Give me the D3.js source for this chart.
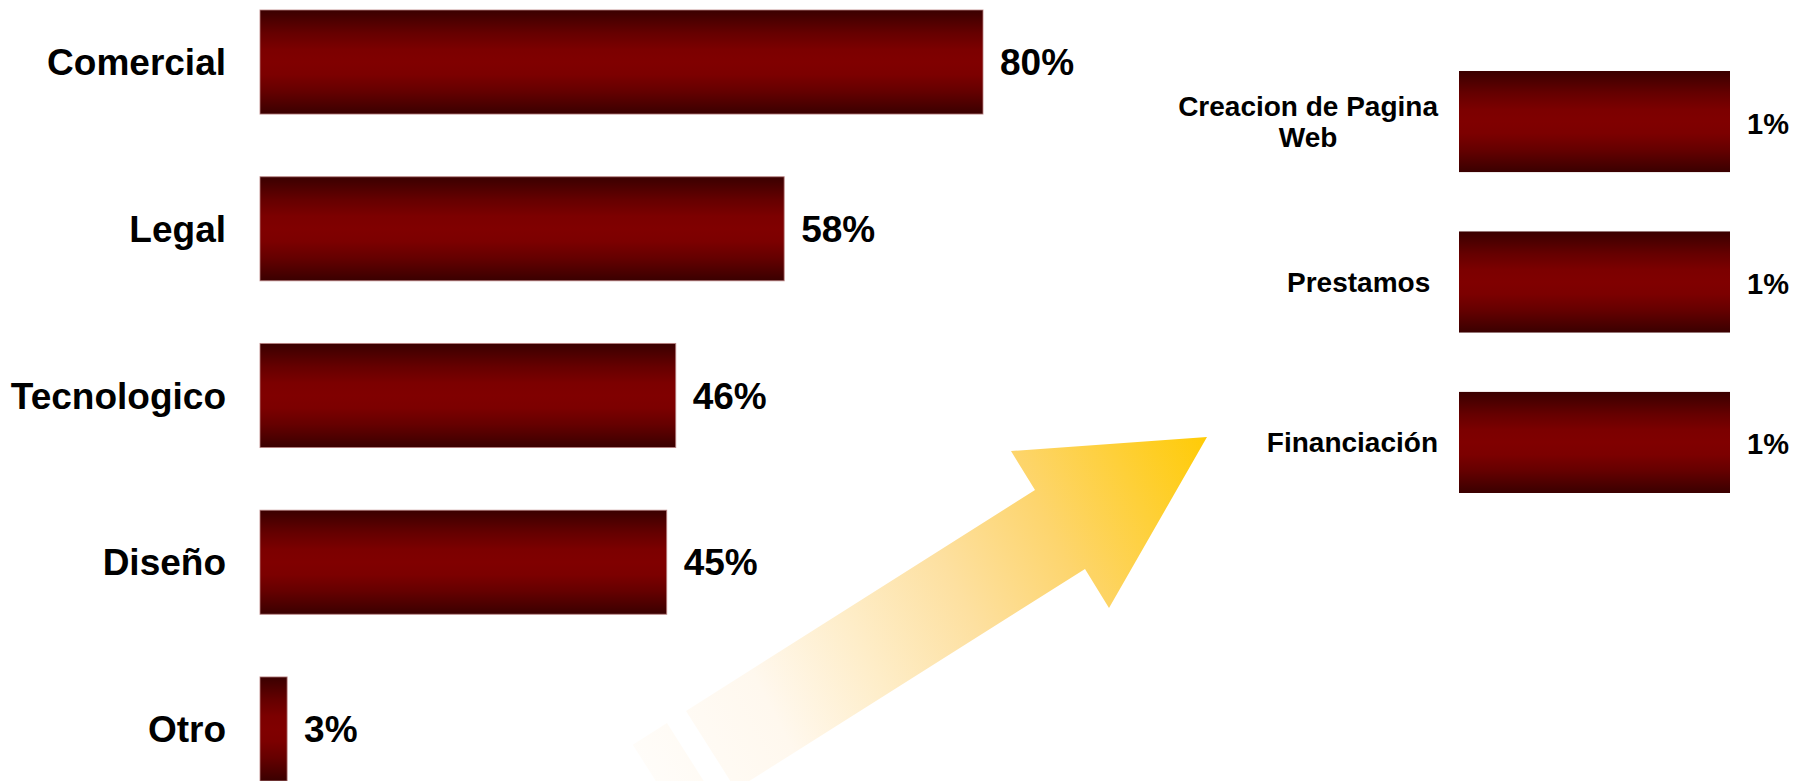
<!DOCTYPE html>
<html>
<head>
<meta charset="utf-8">
<script src="https://cdn.jsdelivr.net/npm/d3@7"></script>
<style>
  html, body { margin: 0; padding: 0; background: #ffffff; }
  svg { display: block; }
  text { font-family: "Liberation Sans", Arial, sans-serif; font-weight: bold; fill: #000; }
</style>
</head>
<body>
<script>
// ---- data ----
const mainCategories = ["Comercial", "Legal", "Tecnologico", "Diseño", "Otro"];
const mainValues = [80, 58, 46, 45, 3];
const mainLabels = ["80%", "58%", "46%", "45%", "3%"];

const sideCategories = [["Creacion de Pagina", "Web"], ["Prestamos "], ["Financiación"]];
const sideValues = [1, 1, 1];
const sideLabels = ["1%", "1%", "1%"];

const W = 1796, H = 781;
const svg = d3.select("body").append("svg").attr("width", W).attr("height", H);
const defs = svg.append("defs");

// bar gradient (dark edges, red middle)
const bg = defs.append("linearGradient").attr("id", "barGrad")
  .attr("x1", 0).attr("y1", 0).attr("x2", 0).attr("y2", 1);
[[0, "#3a0000"], [0.22, "#650000"], [0.38, "#7c0000"], [0.5, "#800000"], [0.62, "#7c0000"], [0.78, "#650000"], [1, "#3a0000"]]
  .forEach(([o, c]) => bg.append("stop").attr("offset", o).attr("stop-color", c));

// arrow gradient
const ag = defs.append("linearGradient").attr("id", "arrowGrad")
  .attr("gradientUnits", "userSpaceOnUse")
  .attr("x1", 560).attr("y1", 780).attr("x2", 1210).attr("y2", 440);
[[0, "#ffffff"], [0.3, "#fff8ee"], [0.45, "#feedc8"], [0.6, "#fde0a0"], [0.75, "#fdd56e"], [1, "#ffcb05"]]
  .forEach(([o, c]) => ag.append("stop").attr("offset", o).attr("stop-color", c));

// ---- decorative arrow (drawn behind bars) ----
const tipPts = [[1035, 490], [1011, 451], [1207, 437], [1109, 608], [1085, 569]];
const ux = -0.845, uy = 0.535;      // direction down the shaft
const nx = 0.535, ny = 0.845;       // across the shaft
const shaftWidth = 93;
const shaftPieces = [[0, 413], [435.5, 476]];
const origin = tipPts[0];
const topAt = t => [origin[0] + ux * t, origin[1] + uy * t];
const botAt = t => { const p = topAt(t); return [p[0] + nx * shaftWidth, p[1] + ny * shaftWidth]; };
const line = d3.line();
const mainPoly = tipPts.concat([botAt(shaftPieces[0][1]), topAt(shaftPieces[0][1])]);
const arrowG = svg.append("g");
arrowG.append("path").attr("d", line(mainPoly) + "Z").attr("fill", "url(#arrowGrad)");
shaftPieces.slice(1).forEach(([a, b]) => {
  arrowG.append("path")
    .attr("d", line([topAt(a), topAt(b), botAt(b), botAt(a)]) + "Z")
    .attr("fill", "url(#arrowGrad)");
});

// ---- main chart ----
const x1 = d3.scaleLinear().domain([0, 80]).range([260, 983]);
const y1 = d3.scaleBand().domain(mainCategories).range([10, 781]).paddingInner(0.376).paddingOuter(0);

const g1 = svg.append("g");
g1.selectAll("rect").data(mainCategories).join("rect")
  .attr("x", x1(0))
  .attr("y", d => y1(d))
  .attr("width", (d, i) => x1(mainValues[i]) - x1(0))
  .attr("height", y1.bandwidth())
  .attr("fill", "url(#barGrad)")
  .attr("stroke", "#b98080").attr("stroke-width", 1).attr("stroke-opacity", 0.8);

g1.selectAll("text.cat").data(mainCategories).join("text").attr("class", "cat")
  .attr("x", x1(0) - 34)
  .attr("y", d => y1(d) + y1.bandwidth() / 2 + 13)
  .attr("text-anchor", "end")
  .attr("font-size", 37)
  .text(d => d);

g1.selectAll("text.val").data(mainCategories).join("text").attr("class", "val")
  .attr("x", (d, i) => x1(mainValues[i]) + 17)
  .attr("y", d => y1(d) + y1.bandwidth() / 2 + 13)
  .attr("font-size", 37)
  .text((d, i) => mainLabels[i]);

// ---- side chart ----
const x2 = d3.scaleLinear().domain([0, 1]).range([1459, 1730]);
const sideKeys = sideCategories.map(d => d.join(" "));
const y2 = d3.scaleBand().domain(sideKeys).range([71, 493]).paddingInner(0.37).paddingOuter(0);

const g2 = svg.append("g");
g2.selectAll("rect").data(sideKeys).join("rect")
  .attr("x", x2(0))
  .attr("y", d => y2(d))
  .attr("width", (d, i) => x2(sideValues[i]) - x2(0))
  .attr("height", y2.bandwidth())
  .attr("fill", "url(#barGrad)");

const labelRight = x2(0) - 21;
sideCategories.forEach((lines, i) => {
  const cy = y2(sideKeys[i]) + y2.bandwidth() / 2;
  const lh = 31;
  const t = g2.append("text")
    .attr("font-size", 28)
    .style("white-space", "pre")
    .attr("text-anchor", lines.length > 1 ? "middle" : "end");
  lines.forEach((ln, j) => {
    t.append("tspan")
      .attr("y", cy + 10 + (j - (lines.length - 1) / 2) * lh)
      .text(ln);
  });
  if (lines.length > 1) {
    const widths = [];
    t.selectAll("tspan").each(function () { widths.push(this.getComputedTextLength()); });
    const cx = labelRight - d3.max(widths) / 2;
    t.selectAll("tspan").attr("x", cx);
  } else {
    t.selectAll("tspan").attr("x", labelRight);
  }
});

g2.selectAll("text.val").data(sideKeys).join("text").attr("class", "val")
  .attr("x", (d, i) => x2(sideValues[i]) + 17)
  .attr("y", d => y2(d) + y2.bandwidth() / 2 + 12)
  .attr("font-size", 29)
  .text((d, i) => sideLabels[i]);
</script>
</body>
</html>
